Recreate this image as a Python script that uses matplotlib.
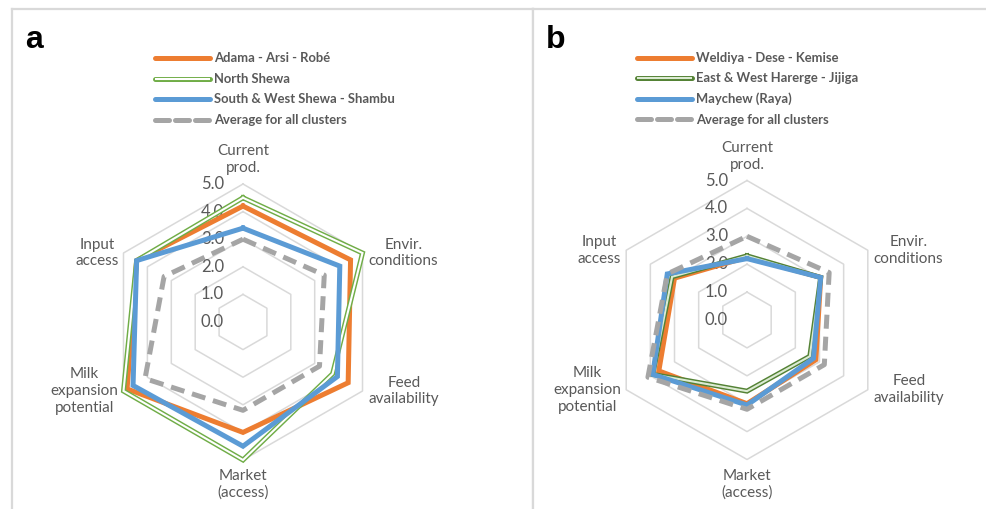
import numpy as np
import matplotlib
matplotlib.use('Agg')
import matplotlib.pyplot as plt

cats = ['Current\nprod.', 'Envir.\nconditions', 'Feed\navailability',
        'Market\n(access)', 'Milk\nexpansion\npotential', 'Input\naccess']
levels = [0, 1, 2, 3, 4, 5]

a_names = ['Adama - Arsi - Robé', 'North Shewa', 'South & West Shewa - Shambu']
a_adama = [4.2, 4.5, 4.4, 4.0, 4.85, 4.45]
a_north = [4.5, 5.0, 3.75, 5.0, 5.0, 4.45]
a_south = [3.4, 4.05, 3.95, 4.5, 4.6, 4.45]

b_names = ['Weldiya - Dese - Kemise', 'East & West Harerge - Jijiga', 'Maychew (Raya)']
b_weldiya = [2.25, 3.05, 2.85, 3.0, 3.65, 3.0]
b_harerge = [2.3, 3.05, 2.6, 2.55, 3.9, 3.1]
b_maychew = [2.2, 3.05, 2.75, 3.05, 3.9, 3.3]

avg_name = 'Average for all clusters'
avg_all = [3.0, 3.4, 3.2, 3.2, 4.1, 3.3]

orange = '#ED7D31'
blue = '#5B9BD5'
grey = '#A5A5A5'
gridcol = '#D9D9D9'
txtcol = '#595959'
lw = 3.6

W, H = 986, 509
fig = plt.figure(figsize=(W/100, H/100), dpi=100)

theta = np.arange(6) * np.pi / 3


def xy(vals):
    v = np.append(vals, vals[0])
    t = np.append(theta, theta[0])
    return v * np.sin(t), v * np.cos(t)


def panel(left, right, cx, cy, u, letter, names, series, green, green_in):
    ax = fig.add_axes([left/W, 0, (right-left)/W, (H-9)/H])
    ax.set_xlim((left-cx)/u, (right-cx)/u)
    ax.set_ylim(-(H-cy)/u, (cy-9)/u)
    ax.set_xticks([])
    ax.set_yticks([])
    for s in ['left', 'top', 'right', 'bottom']:
        ax.spines[s].set_color(gridcol)
        ax.spines[s].set_linewidth(1.6)
    ax.spines['bottom'].set_visible(False)
    if left > 100:
        ax.spines['right'].set_visible(False)

    def d(px, py):
        return (px-cx)/u, (cy-py)/u

    # grid hexagons
    for r in levels[1:]:
        x, y = xy([r]*6)
        ax.plot(x, y, color=gridcol, lw=1.1, zorder=1)
    for r in levels:
        ax.text(-19/u, r, '%.1f' % r, ha='right', va='center',
                fontsize=12, color=txtcol, family='Lato', zorder=2)

    # category labels
    R = levels[-1]
    for k, c in enumerate(cats):
        vx, vy = R*np.sin(theta[k]), R*np.cos(theta[k])
        if k == 0:
            ax.text(vx, vy + 9/u, c, ha='center', va='bottom', ma='center',
                    fontsize=11, color=txtcol, family='Lato', linespacing=1.25)
        elif k == 3:
            ax.text(vx, vy - 9/u, c, ha='center', va='top', ma='center',
                    fontsize=11, color=txtcol, family='Lato', linespacing=1.25)
        elif vx > 0:
            ax.text(vx + 6/u, vy, c, ha='left', va='center', ma='center',
                    fontsize=11, color=txtcol, family='Lato', linespacing=1.25)
        else:
            ax.text(vx - 5/u, vy, c, ha='right', va='center', ma='center',
                    fontsize=11, color=txtcol, family='Lato', linespacing=1.25)

    # series
    x, y = xy(series[0])
    ax.plot(x, y, color=orange, lw=lw, zorder=3, solid_joinstyle='miter')
    x, y = xy(series[1])
    ax.plot(x, y, color=green, lw=lw, zorder=4, solid_joinstyle='miter')
    ax.plot(x, y, color=green_in, lw=1.5, zorder=4.1, solid_joinstyle='miter')
    x, y = xy(series[2])
    ax.plot(x, y, color=blue, lw=lw, zorder=5, solid_joinstyle='miter')
    x, y = xy(avg_all)
    ax.plot(x, y, color=grey, lw=lw, zorder=6, dashes=(2.8, 1.6),
            dash_capstyle='butt', solid_joinstyle='miter')

    # letter
    lx, ly = d(letter[1], 48)
    ax.text(lx, ly, letter[0], ha='left', va='baseline', fontsize=23,
            fontweight='bold', family='Liberation Sans', color='black')

    # legend
    lx0 = letter[2]
    rows = [58, 78.5, 99, 119.5]
    styles = [(orange, None), (green, green_in), (blue, None), (grey, 'dash')]
    labels = names + [avg_name]
    for (col, st), lab, py in zip(styles, labels, rows):
        x0, y0 = d(lx0, py)
        x1, _ = d(lx0 + 55, py)
        if st == 'dash':
            ax.plot([x0, x1], [y0, y0], color=col, lw=lw, dashes=(2.8, 1.2),
                    dash_capstyle='round', clip_on=False)
        else:
            ax.plot([x0, x1], [y0, y0], color=col, lw=lw,
                    solid_capstyle='round', clip_on=False)
            if st is not None:
                ax.plot([x0, x1], [y0, y0], color=st, lw=1.5,
                        solid_capstyle='butt', clip_on=False)
        tx, ty = d(lx0 + 59, py)
        ax.text(tx, ty, lab, ha='left', va='center', fontsize=9.4,
                fontweight='bold', color=txtcol, family='Lato')
    return ax


panel(12, 533, 243, 322, 27.6, ('a', 25, 155), a_names,
      [a_adama, a_north, a_south], '#70AD47', 'white')
panel(533, 986, 747, 320, 27.9, ('b', 546, 637), b_names,
      [b_weldiya, b_harerge, b_maychew], '#548235', '#DCEBD3')

fig.savefig('out.png', dpi=100, facecolor='white')
